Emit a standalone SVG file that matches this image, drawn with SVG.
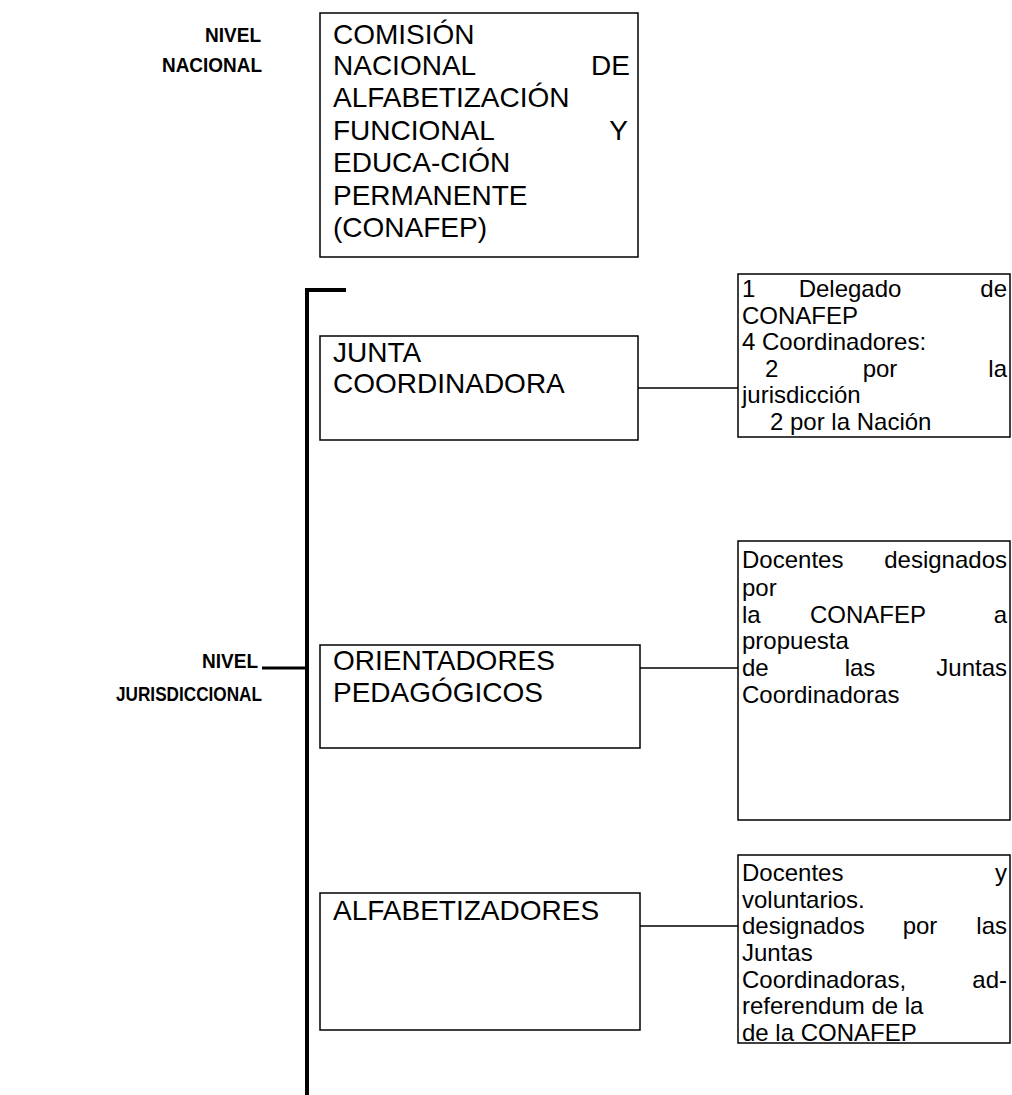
<svg xmlns="http://www.w3.org/2000/svg" width="1012" height="1095" viewBox="0 0 1012 1095">
<style>
  .bg{fill:#fff}
  .box{fill:#fff;stroke:#000;stroke-width:1.5}
  .lbl{font-family:"Liberation Sans",Arial,sans-serif;font-weight:bold;font-size:21px;fill:#000;text-anchor:end}
  .big{font-family:"Liberation Sans",Arial,sans-serif;font-size:28px;fill:#000}
  .sm{font-family:"Liberation Sans",Arial,sans-serif;font-size:24px;fill:#000}
  .e{text-anchor:end}
  .m{text-anchor:middle}
  .thin{stroke:#000;stroke-width:1.5;fill:none}
  .thick{stroke:#000;stroke-width:4;fill:none}
</style>
<rect class="bg" x="0" y="0" width="1012" height="1095"/>

<g id="label-nacional">
  <text class="lbl" x="261" y="42" textLength="56" lengthAdjust="spacingAndGlyphs">NIVEL</text>
  <text class="lbl" x="262" y="72" textLength="100" lengthAdjust="spacingAndGlyphs">NACIONAL</text>
</g>

<g id="conafep">
  <rect class="box" x="320" y="13" width="318" height="244"/>
  <text class="big" x="333" y="44">COMISIÓN</text>
  <text class="big" x="333" y="75">NACIONAL</text>
  <text class="big e" x="630" y="75">DE</text>
  <text class="big" x="333" y="107">ALFABETIZACIÓN</text>
  <text class="big" x="333" y="140">FUNCIONAL</text>
  <text class="big e" x="628" y="140">Y</text>
  <text class="big" x="333" y="172">EDUCA-CIÓN</text>
  <text class="big" x="333" y="205">PERMANENTE</text>
  <text class="big" x="333" y="237">(CONAFEP)</text>
</g>

<g id="label-jurisdiccional">
  <text class="lbl" x="258" y="668" textLength="56" lengthAdjust="spacingAndGlyphs">NIVEL</text>
  <text class="lbl" x="262" y="701" textLength="146" lengthAdjust="spacingAndGlyphs">JURISDICCIONAL</text>
</g>

<g id="junta">
  <rect class="box" x="320" y="336" width="318" height="104"/>
  <text class="big" x="333" y="362">JUNTA</text>
  <text class="big" x="333" y="393">COORDINADORA</text>
</g>

<g id="junta-detalle">
  <rect class="box" x="738" y="274" width="272" height="163"/>
  <text class="sm" x="742" y="297">1</text>
  <text class="sm m" x="850" y="297">Delegado</text>
  <text class="sm e" x="1007" y="297">de</text>
  <text class="sm" x="742" y="324">CONAFEP</text>
  <text class="sm" x="742" y="350">4 Coordinadores:</text>
  <text class="sm" x="765" y="377">2</text>
  <text class="sm m" x="880" y="377">por</text>
  <text class="sm e" x="1007" y="377">la</text>
  <text class="sm" x="742" y="403">jurisdicción</text>
  <text class="sm" x="770" y="430">2 por la Nación</text>
</g>

<g id="orientadores">
  <rect class="box" x="320" y="645" width="320" height="103"/>
  <text class="big" x="333" y="670">ORIENTADORES</text>
  <text class="big" x="333" y="702">PEDAGÓGICOS</text>
</g>

<g id="orientadores-detalle">
  <rect class="box" x="738" y="541" width="272" height="279"/>
  <text class="sm" x="742" y="568">Docentes</text>
  <text class="sm e" x="1007" y="568">designados</text>
  <text class="sm" x="742" y="596">por</text>
  <text class="sm" x="742" y="623">la</text>
  <text class="sm m" x="868" y="623">CONAFEP</text>
  <text class="sm e" x="1007" y="623">a</text>
  <text class="sm" x="742" y="649">propuesta</text>
  <text class="sm" x="742" y="676">de</text>
  <text class="sm m" x="860" y="676">las</text>
  <text class="sm e" x="1007" y="676">Juntas</text>
  <text class="sm" x="742" y="703">Coordinadoras</text>
</g>

<g id="alfabetizadores">
  <rect class="box" x="320" y="893" width="320" height="137"/>
  <text class="big" x="333" y="920">ALFABETIZADORES</text>
</g>

<g id="alfabetizadores-detalle">
  <rect class="box" x="738" y="855" width="272" height="188"/>
  <text class="sm" x="742" y="881">Docentes</text>
  <text class="sm e" x="1007" y="881">y</text>
  <text class="sm" x="742" y="908">voluntarios.</text>
  <text class="sm" x="742" y="934">designados</text>
  <text class="sm m" x="920" y="934">por</text>
  <text class="sm e" x="1007" y="934">las</text>
  <text class="sm" x="742" y="961">Juntas</text>
  <text class="sm" x="742" y="988">Coordinadoras,</text>
  <text class="sm e" x="1007" y="988">ad-</text>
  <text class="sm" x="742" y="1014">referendum de la</text>
  <text class="sm" x="742" y="1041">de la CONAFEP</text>
</g>

<g id="connectors">
  <path class="thick" d="M307 1095 V290 H346"/>
  <path class="thick" d="M262 668 H307" style="stroke-width:3"/>
  <path class="thin" d="M638 388 H738"/>
  <path class="thin" d="M640 668 H738"/>
  <path class="thin" d="M640 926 H738"/>
</g>
</svg>
